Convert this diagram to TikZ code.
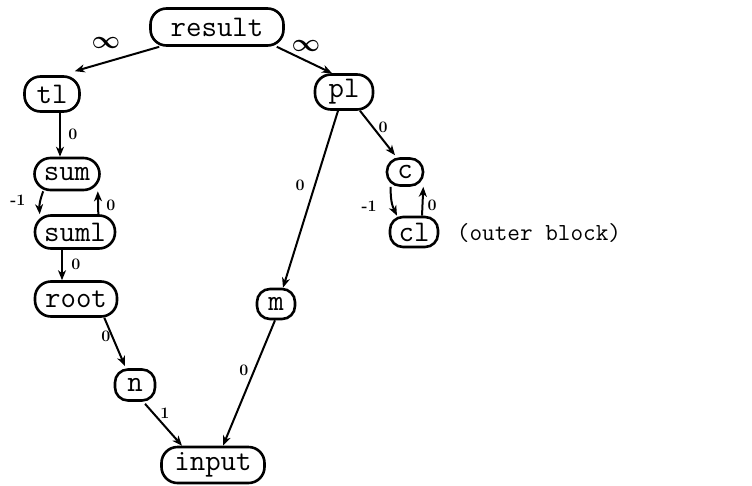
\documentclass[tikz,border=0pt]{standalone}
\usepackage{fontspec}
\usetikzlibrary{arrows.meta}
\tikzset{
  vbox/.style={draw, line width=2.6pt, rounded corners=16pt, inner sep=0pt,
    font=\ttfamily\fontsize{30}{30}\selectfont},
  small/.style={rounded corners=13pt},
  wgt/.style={inner sep=0pt, font=\bfseries\fontsize{16}{16}\selectfont},
  inf/.style={inner sep=0pt, font=\boldmath\fontsize{24}{24}\selectfont},
  dep/.style={line width=2pt, -{Stealth[length=10pt, width=8pt, inset=3pt]}},
}
\begin{document}
\begin{tikzpicture}[x=1pt, y=-1pt]
\useasboundingbox (0,0) rectangle (752,485);
% variable nodes
\node[vbox, minimum width=133, minimum height=37] (result) at (217,27) {result};
\node[vbox, minimum width=55, minimum height=35]  (tl)     at (52,94)  {tl};
\node[vbox, minimum width=58, minimum height=35]  (pl)     at (344,92) {pl};
\node[vbox, minimum width=65, minimum height=32]  (sum)    at (67,174) {sum};
\node[vbox, minimum width=80, minimum height=33]  (suml)   at (75,232) {suml};
\node[vbox, minimum width=82, minimum height=35]  (root)   at (76,299) {root};
\node[vbox, small, minimum width=40, minimum height=31]  (n)  at (135,385) {n};
\node[vbox, small, minimum width=38, minimum height=30]  (m)  at (276,304) {m};
\node[vbox, minimum width=103, minimum height=36] (input)  at (213,465) {input};
\node[vbox, small, minimum width=36, minimum height=27]  (c)  at (405,172) {c};
\node[vbox, small, minimum width=48, minimum height=30]  (cl) at (414,232) {cl};
\node[inner sep=0pt, font=\ttfamily\fontsize{24.5}{24.5}\selectfont] (blk) at (539,233) {(outer block)};
% dependency arrows
\draw[dep] ([xshift=10pt]result.south west) -- ([xshift=-6pt,yshift=4pt]tl.north east);
\draw[dep] ([xshift=-8pt]result.south east) -- ([xshift=-12pt]pl.north);
\draw[dep] ([xshift=8pt]tl.south) -- ([xshift=-7pt]sum.north);
\draw[dep] ([xshift=10pt]sum.south west) to[bend right=12] ([xshift=6pt]suml.north west);
\draw[dep] ([xshift=-18pt]suml.north east) -- ([xshift=-3pt]sum.south east);
\draw[dep] ([xshift=-13pt]suml.south) -- ([xshift=-14pt]root.north);
\draw[dep] ([xshift=-14pt]root.south east) -- ([xshift=-10pt,yshift=2pt]n.north);
\draw[dep] ([xshift=10pt,yshift=-2pt]n.south) -- ([xshift=-31pt]input.north);
\draw[dep] ([xshift=-6pt]pl.south) -- ([xshift=7pt]m.north);
\draw[dep] ([xshift=16pt]pl.south) -- ([xshift=-10pt,yshift=2pt]c.north);
\draw[dep] ([xshift=5pt]c.south west) to[bend right=14] ([xshift=-17pt]cl.north);
\draw[dep] ([xshift=8pt]cl.north) -- ([xshift=-1pt]c.south east);
\draw[dep] ([xshift=-1pt]m.south) -- ([xshift=10pt]input.north);
% weights
\node[inf] (w1) at (106,43) {$\infty$};
\node[inf] (w2) at (306,46) {$\infty$};
\node[wgt] (w3) at (73,134) {0};
\node[wgt] (w4) at (18,200) {-1};
\node[wgt] (w5) at (111,205) {0};
\node[wgt] (w6) at (76,264) {0};
\node[wgt] (w7) at (106,336) {0};
\node[wgt] (w8) at (165,413) {1};
\node[wgt] (w9) at (300,185) {0};
\node[wgt] (w10) at (383,127) {0};
\node[wgt] (w11) at (369,206) {-1};
\node[wgt] (w12) at (432,205) {0};
\node[wgt] (w13) at (244,370) {0};
\end{tikzpicture}
\end{document}
